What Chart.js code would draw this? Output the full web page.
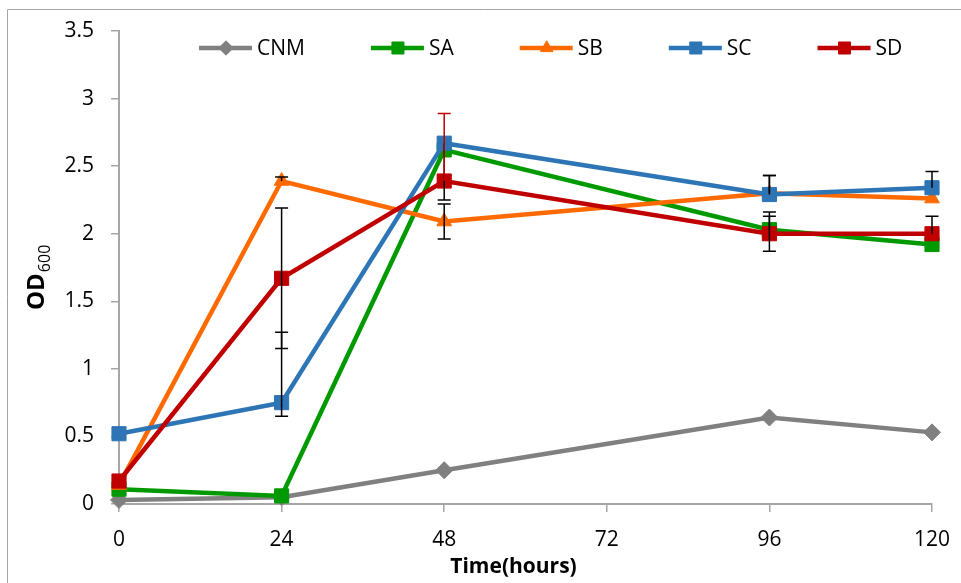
<!DOCTYPE html>
<html>
<head>
<meta charset="utf-8">
<script src="https://cdn.jsdelivr.net/npm/chart.js@4.4.1/dist/chart.umd.min.js"></script>
<style>
  html, body { margin: 0; padding: 0; background: #fff; overflow: hidden; }
  #wrap { width: 961px; height: 583px; }
</style>
</head>
<body>
<div id="wrap"><canvas id="odChart" width="961" height="583"></canvas></div>
<script>
const hours = [0, 24, 48, 96, 120];
const xTicks = [0, 24, 48, 72, 96, 120];
const seriesNames = ['CNM', 'SA', 'SB', 'SC', 'SD'];

// OD600 readings
const cnm = [0.03, 0.05, 0.25, 0.64, 0.53];
const sa = [0.11, 0.06, 2.62, 2.03, 1.92];
const sb = [0.14, 2.39, 2.09, 2.30, 2.26];
const sc = [0.52, 0.75, 2.67, 2.29, 2.34];
const sd = [0.17, 1.67, 2.39, 2.00, 2.00];

// error bars, upper and lower arm (0 = none)
const saErrUp = [0, 0, 0, 0.13, 0];
const saErrDown = [0, 0, 0, 0, 0];
const sbErrUp = [0, 0.03, 0.13, 0.13, 0];
const sbErrDown = [0, 0, 0.13, 0, 0];
const scErrUp = [0, 0.52, 0, 0.14, 0.12];
const scErrDown = [0, 0.10, 0.42, 0, 0];
const sdErrUp = [0, 0.52, 0.50, 0.13, 0.13];
const sdErrDown = [0, 0.52, 0, 0.13, 0];

const FONT = "'Open Sans', 'Liberation Sans', sans-serif";
const BLACK = '#000';

function pts(values) {
  return values.map((v, i) => ({ x: hours[i], y: v }));
}

function series(name, values, color, style, radius, order, up, down, errColor) {
  return {
    label: name,
    data: pts(values),
    borderColor: color,
    backgroundColor: color,
    borderWidth: 4.5,
    pointStyle: style,
    pointRadius: radius,
    pointBorderWidth: 1,
    pointBorderColor: color,
    pointBackgroundColor: color,
    tension: 0,
    clip: false,
    order: order,
    errUp: up || null,
    errDown: down || null,
    errColor: errColor || (() => BLACK)
  };
}

const datasets = [
  series(seriesNames[0], cnm, '#808080', 'rectRot', 8.5, 5),
  series(seriesNames[1], sa, '#009a00', 'rect', 10, 4, saErrUp, saErrDown),
  series(seriesNames[2], sb, '#ff6a00', 'triangle', 8.5, 3, sbErrUp, sbErrDown),
  series(seriesNames[3], sc, '#2e75b6', 'rect', 10, 2, scErrUp, scErrDown),
  series(seriesNames[4], sd, '#c00000', 'rect', 10, 1, sdErrUp, sdErrDown,
    (i, dir) => (i === 2 && dir > 0 ? '#c00000' : BLACK))
];

// whiskers with caps
const errorBars = {
  id: 'errorBars',
  afterDatasetsDraw(chart) {
    const { ctx, scales: { x, y } } = chart;
    ctx.save();
    ctx.lineWidth = 1.5;
    chart.data.datasets.forEach(ds => {
      if (!ds.errUp) return;
      hours.forEach((h, i) => {
        const v = ds.data[i].y;
        const px = x.getPixelForValue(h);
        [[ds.errUp[i], 1], [ds.errDown[i], -1]].forEach(([e, dir]) => {
          if (!e) return;
          const y0 = y.getPixelForValue(v);
          const y1 = y.getPixelForValue(v + dir * e);
          ctx.strokeStyle = ds.errColor(i, dir);
          ctx.beginPath();
          ctx.moveTo(px, y0);
          ctx.lineTo(px, y1);
          ctx.moveTo(px - 6.5, y1);
          ctx.lineTo(px + 6.5, y1);
          ctx.stroke();
        });
      });
    });
    ctx.restore();
  }
};

// frame, legend and axis titles
const decorations = {
  id: 'decorations',
  beforeDraw(chart) {
    const { ctx, width, height } = chart;
    ctx.save();
    ctx.strokeStyle = '#a6a6a6';
    ctx.lineWidth = 1;
    ctx.beginPath();
    ctx.moveTo(7.5, height);
    ctx.lineTo(7.5, 9.5);
    ctx.lineTo(width, 9.5);
    ctx.stroke();
    ctx.restore();
  },
  afterDraw(chart) {
    const { ctx, chartArea } = chart;
    ctx.save();

    // legend row
    ctx.font = '21px ' + FONT;
    ctx.textBaseline = 'middle';
    ctx.textAlign = 'left';
    let lx = 199;
    const ly = 48;
    chart.data.datasets.forEach(ds => {
      ctx.strokeStyle = ds.borderColor;
      ctx.lineWidth = 4.5;
      ctx.beginPath();
      ctx.moveTo(lx, ly);
      ctx.lineTo(lx + 53, ly);
      ctx.stroke();
      ctx.fillStyle = ds.borderColor;
      ctx.strokeStyle = ds.borderColor;
      ctx.lineWidth = 1;
      Chart.helpers.drawPoint(ctx, {
        pointStyle: ds.pointStyle,
        radius: ds.pointRadius * 0.85,
        borderWidth: 1
      }, lx + 27, ly);
      ctx.fillStyle = BLACK;
      ctx.fillText(ds.label, lx + 58, ly + 1);
      lx += 58 + ctx.measureText(ds.label).width + 66;
    });

    // x title
    ctx.font = 'bold 21px ' + FONT;
    ctx.textAlign = 'center';
    ctx.textBaseline = 'middle';
    ctx.fillStyle = BLACK;
    ctx.fillText('Time(hours)', (chartArea.left + chartArea.right) / 2 - 12, 567);

    // y title with subscript
    ctx.translate(44, 310);
    ctx.rotate(-Math.PI / 2);
    ctx.textAlign = 'left';
    ctx.textBaseline = 'alphabetic';
    ctx.font = 'bold 24px ' + FONT;
    ctx.fillText('OD', 0, 0);
    const w = ctx.measureText('OD').width;
    ctx.font = '16px ' + FONT;
    ctx.fillText('600', w + 1, 6);
    ctx.restore();
  }
};

const axisGray = '#a6a6a6';

new Chart(document.getElementById('odChart'), {
  type: 'line',
  data: { datasets },
  plugins: [errorBars, decorations],
  options: {
    responsive: false,
    animation: false,
    devicePixelRatio: 1,
    layout: { padding: { top: 31, right: 29, left: 0, bottom: 0 } },
    plugins: { legend: { display: false }, tooltip: { enabled: false } },
    scales: {
      x: {
        type: 'linear',
        min: 0,
        max: 120,
        afterBuildTicks: axis => { axis.ticks = xTicks.map(v => ({ value: v })); },
        afterFit: axis => {
          axis.height = 79;
          // keep the last label from squeezing the plot
          axis.paddingLeft = 0;
          axis.paddingRight = 0;
        },
        grid: { drawOnChartArea: false, drawTicks: true, tickLength: 8, color: axisGray, lineWidth: 1.5 },
        border: { display: true, color: axisGray, width: 2 },
        ticks: { color: BLACK, font: { family: FONT, size: 21 }, padding: 15, maxRotation: 0 }
      },
      y: {
        min: 0,
        max: 3.5,
        ticks: {
          stepSize: 0.5,
          color: BLACK,
          font: { family: FONT, size: 21 },
          padding: 17,
          callback: v => String(+v.toFixed(1))
        },
        afterFit: axis => { axis.width = 119; },
        grid: { drawOnChartArea: false, drawTicks: true, tickLength: 8, color: axisGray, lineWidth: 1.5 },
        border: { display: true, color: axisGray, width: 2 }
      }
    }
  }
});
</script>
</body>
</html>
